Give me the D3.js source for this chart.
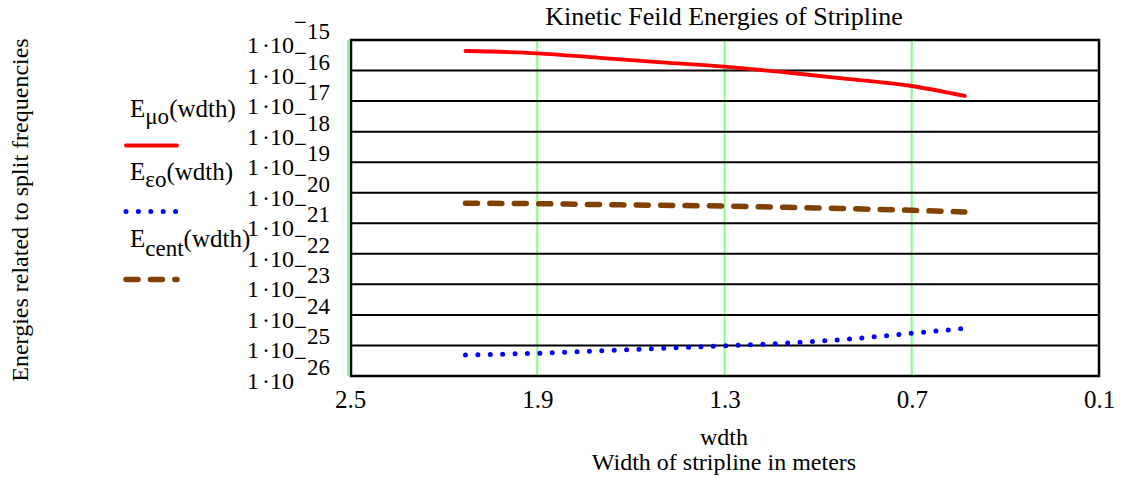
<!DOCTYPE html>
<html>
<head>
<meta charset="utf-8">
<script src="https://cdn.jsdelivr.net/npm/d3@7"></script>
<style>
  html, body { margin: 0; padding: 0; background: #fff; }
  svg text { font-family: "Liberation Serif", "Times New Roman", serif; fill: #000; }
</style>
</head>
<body>
<svg id="chart" width="1122" height="479"></svg>
<script>
// Strip widths (m) at which the energies are sampled
const wdth = [2.13, 1.9, 1.7, 1.5, 1.3, 1.1, 0.9, 0.7, 0.53];
// Kinetic field energies for each width
const eMu   = [4.36e-16, 3.67e-16, 2.61e-16, 1.86e-16, 1.34e-16, 8.63e-17, 5.28e-17, 3.12e-17, 1.47e-17];
const eEps  = [4.86e-26, 5.57e-26, 6.68e-26, 8.07e-26, 9.75e-26, 1.20e-25, 1.63e-25, 2.50e-25, 3.64e-25];
const eCent = [4.51e-21, 4.38e-21, 4.09e-21, 3.87e-21, 3.67e-21, 3.33e-21, 3.00e-21, 2.66e-21, 2.34e-21];

const xTicks = [2.5, 1.9, 1.3, 0.7, 0.1];
const yExps = [-15, -16, -17, -18, -19, -20, -21, -22, -23, -24, -25, -26];

const titleText = "Kinetic Feild Energies of Stripline";
const yTitle = "Energies related to split frequencies";
const xTitle1 = "wdth";
const xTitle2 = "Width of stripline in meters";

const legendItems = [
  { base: "E", sub: "μo",   tail: "(wdth)", key: "mu" },
  { base: "E", sub: "εo",   tail: "(wdth)", key: "eps" },
  { base: "E", sub: "cent", tail: "(wdth)", key: "cent" }
];

const styles = {
  mu:   { color: "#ff0000", width: 3.8, dash: null, cap: "round" },
  eps:  { color: "#0000ff", width: 5,   dash: "0 12.4", cap: "round" },
  cent: { color: "#804000", width: 5.5, dash: "12 12.4", cap: "round" }
};

const svg = d3.select("#chart");
const plotL = 350, plotR = 1099, plotT = 40, plotB = 376;

const x = d3.scaleLinear().domain([2.5, 0.1]).range([plotL, plotR]);
const y = d3.scaleLog().domain([1e-26, 1e-15]).range([plotB, plotT]);

// vertical grid (green)
svg.append("g").selectAll("line").data(xTicks).join("line")
  .attr("x1", d => x(d) - (d === 2.5 ? 2 : 0)).attr("x2", d => x(d) - (d === 2.5 ? 2 : 0))
  .attr("y1", plotT).attr("y2", plotB)
  .attr("stroke", "#80ff80").attr("stroke-width", 2);

// horizontal grid (black) at each decade
svg.append("g").selectAll("line").data(yExps).join("line")
  .attr("x1", plotL).attr("x2", plotR)
  .attr("y1", d => y(Math.pow(10, d))).attr("y2", d => y(Math.pow(10, d)))
  .attr("stroke", "#000").attr("stroke-width", 2);

// frame
svg.append("rect")
  .attr("x", plotL + 1).attr("y", plotT).attr("width", plotR - plotL - 1).attr("height", plotB - plotT)
  .attr("fill", "none").attr("stroke", "#000").attr("stroke-width", 2.5);

// x axis tick labels
const xAxis = d3.axisBottom(x).tickValues(xTicks).tickSize(0).tickPadding(0)
  .tickFormat(d3.format(".1f"));
const gx = svg.append("g").attr("transform", `translate(0, ${plotB + 32})`).call(xAxis);
gx.select(".domain").remove();
gx.attr("font-family", null).attr("font-size", null);
gx.selectAll("text").attr("dy", 0).style("font-size", "25px");

// y axis labels: 1·10^exp
const yl = svg.append("g").selectAll("text").data(yExps).join("text")
  .attr("x", 247).attr("y", d => y(Math.pow(10, d)) + 13)
  .attr("font-size", 24);
yl.append("tspan").text("1");
yl.append("tspan").attr("dx", 3).text("·10");
yl.append("tspan").attr("font-size", 23).attr("y", d => y(Math.pow(10, d)) - 10).text("−");
yl.append("tspan").attr("font-size", 23).attr("y", d => y(Math.pow(10, d)) - 1).text(d => String(-d));

// series lines
const line = d3.line().x(d => x(d[0])).y(d => y(d[1])).curve(d3.curveMonotoneX);
const series = [
  { key: "mu", vals: eMu },
  { key: "cent", vals: eCent },
  { key: "eps", vals: eEps }
];
svg.append("g").selectAll("path").data(series).join("path")
  .attr("d", s => line(wdth.map((w, i) => [w, s.vals[i]])))
  .attr("fill", "none")
  .attr("stroke", s => styles[s.key].color)
  .attr("stroke-width", s => styles[s.key].width)
  .attr("stroke-dasharray", s => styles[s.key].dash)
  .attr("stroke-linecap", s => styles[s.key].cap);

// title
svg.append("text").attr("x", 724).attr("y", 25).attr("text-anchor", "middle")
  .attr("font-size", 26).text(titleText);

// axis titles
svg.append("text").attr("transform", "translate(28, 210) rotate(-90)")
  .attr("text-anchor", "middle").attr("font-size", 24).text(yTitle);
svg.append("text").attr("x", 724).attr("y", 445).attr("text-anchor", "middle")
  .attr("font-size", 24).text(xTitle1);
svg.append("text").attr("x", 724).attr("y", 470).attr("text-anchor", "middle")
  .attr("font-size", 24).text(xTitle2);

// legend
const legY = [117, 180, 247];
const legSub = [7, 7, 9];
const legSwatch = [145.5, 211.5, 279.5];
const lg = svg.append("g");
legendItems.forEach((it, i) => {
  const t = lg.append("text").attr("x", 130).attr("y", legY[i]).attr("font-size", 25);
  t.append("tspan").text(it.base);
  t.append("tspan").attr("dy", legSub[i]).attr("font-size", 23).text(it.sub);
  t.append("tspan").attr("dy", -legSub[i]).text(it.tail);
  const st = styles[it.key];
  lg.append("line").attr("x1", 126).attr("x2", 177)
    .attr("y1", legSwatch[i]).attr("y2", legSwatch[i])
    .attr("stroke", st.color).attr("stroke-width", st.width)
    .attr("stroke-dasharray", st.dash).attr("stroke-linecap", st.cap);
});
</script>
</body>
</html>
